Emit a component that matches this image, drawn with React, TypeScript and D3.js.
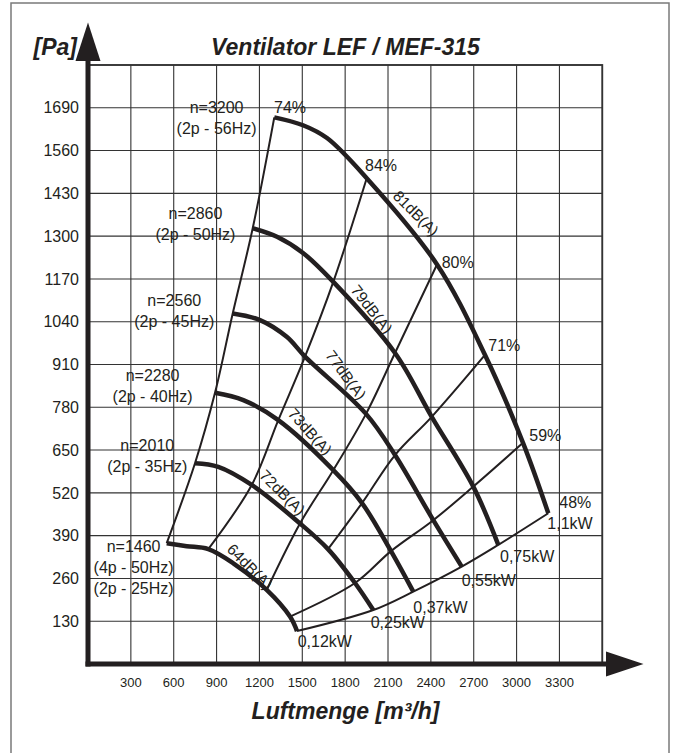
import React from 'react'
import * as d3 from 'd3'

// axis ticks
const yTicks = [130, 260, 390, 520, 650, 780, 910, 1040, 1170, 1300, 1430, 1560, 1690]
const xTicks = [300, 600, 900, 1200, 1500, 1800, 2100, 2400, 2700, 3000, 3300]

// fan curves, [m3/h, Pa]
const n3200 = [[1304, 1661], [1505, 1637], [1673, 1598], [1951, 1476], [2443, 1214], [2779, 939], [3045, 672], [3222, 458]]
const n2860 = [[1153, 1324], [1323, 1298], [1505, 1249], [1717, 1161], [2149, 945], [2406, 751], [2697, 539], [2872, 362]]
const n2560 = [[1013, 1065], [1204, 1045], [1391, 994], [1519, 934], [1946, 760], [2149, 635], [2417, 437], [2616, 296]]
const n2280 = [[889, 824], [1087, 802], [1332, 741], [1717, 589], [1918, 489], [2121, 343], [2277, 220]]
const n2010 = [[749, 610], [912, 599], [1146, 544], [1484, 427], [1680, 349], [1869, 246], [1997, 164]]
const n1460 = [[551, 367], [691, 358], [842, 349], [1017, 306], [1251, 225], [1414, 144], [1463, 100]]

// efficiency lines
const eff74 = [[551, 367], [749, 610], [889, 824], [1013, 1065], [1153, 1324], [1304, 1661]]
const eff84 = [[842, 349], [1146, 544], [1332, 741], [1519, 934], [1717, 1161], [1951, 1476]]
const eff80 = [[1251, 225], [1484, 427], [1717, 589], [1946, 760], [2149, 945], [2443, 1214]]
const eff71 = [[1680, 349], [1918, 489], [2149, 635], [2406, 751], [2779, 939]]
const eff59 = [[1414, 144], [1869, 246], [2121, 343], [2417, 437], [2697, 539], [3045, 672]]
const eff48 = [[1463, 100], [1997, 164], [2277, 220], [2616, 296], [2872, 362], [3222, 458]]

const speedCurves = [n3200, n2860, n2560, n2280, n2010, n1460]
const effLines = [eff74, eff84, eff80, eff71, eff59, eff48]

// speed labels
const speedNames = ['n=3200', 'n=2860', 'n=2560', 'n=2280', 'n=2010', 'n=1460']
const speedNotes = [['(2p - 56Hz)'], ['(2p - 50Hz)'], ['(2p - 45Hz)'], ['(2p - 40Hz)'], ['(2p - 35Hz)'], ['(4p - 50Hz)', '(2p - 25Hz)']]
const speedLabelAt = [[900, 1673], [752, 1351], [604, 1088], [452, 861], [415, 648], [319, 339]]

// efficiency / power labels
const effNames = ['74%', '84%', '80%', '71%', '59%', '48%']
const effLabelAt = [[1302, 1674], [1939, 1499], [2476, 1202], [2802, 952], [3089, 678], [3299, 473]]
const powerNames = ['1,1kW', '0,75kW', '0,55kW', '0,37kW', '0,25kW', '0,12kW']
const powerLabelAt = [[3215, 409], [2884, 311], [2616, 237], [2277, 156], [1979, 108], [1468, 52]]

// sound levels
const dbNames = ['81dB(A)', '79dB(A)', '77dB(A)', '73dB(A)', '72dB(A)', '64dB(A)']
const dbLabelAt = [[2296, 1370], [1986, 1078], [1806, 878], [1554, 706], [1361, 521], [1134, 296]]
const dbAngle = [45, 52, 54, 48, 45, 45]

const ink = '#231f20'
const font = '"Liberation Sans", Arial, Helvetica, sans-serif'

export default function App() {
  const x = d3.scaleLinear().domain([0, 3600]).range([88, 602.3])
  const y = d3.scaleLinear().domain([0, 1820]).range([664, 65])
  const line = d3
    .line<number[]>()
    .x((d) => x(d[0]))
    .y((d) => y(d[1]))
    .curve(d3.curveCatmullRom.alpha(0.5))

  const x0 = x(0)
  const y0 = y(0)
  const gridQ = d3.range(300, 3601, 300)
  const gridP = d3.range(130, 1821, 130)

  return (
    <svg
      width={675}
      height={753}
      style={{ position: 'absolute', left: 0, top: 0, background: '#fff' }}
      fontFamily={font}
    >
      <rect x={11} y={3} width={658} height={770} fill="#fff" stroke="#7a7a7a" strokeWidth={1.5} />

      {/* grid */}
      <g stroke="#333" strokeWidth={1.1}>
        {gridQ.map((q) => (
          <line key={'v' + q} x1={x(q)} x2={x(q)} y1={y0} y2={y(1820)} />
        ))}
        {gridP.map((p) => (
          <line key={'h' + p} x1={x0} x2={x(3600)} y1={y(p)} y2={y(p)} />
        ))}
      </g>
      <rect x={x0} y={y(1820)} width={x(3600) - x0} height={y0 - y(1820)} fill="none" stroke="#333" strokeWidth={1.8} />

      {/* efficiency lines */}
      <g fill="none" stroke={ink} strokeWidth={2}>
        {effLines.map((d, i) => (
          <path key={i} d={line(d) || ''} />
        ))}
      </g>

      {/* speed curves */}
      <g fill="none" stroke={ink} strokeWidth={4.5} strokeLinejoin="round">
        {speedCurves.map((d, i) => (
          <path key={i} d={line(d) || ''} />
        ))}
      </g>

      {/* axes */}
      <line x1={x0} x2={x0} y1={y0 + 2.5} y2={58} stroke={ink} strokeWidth={5} />
      <line x1={x0 - 2.5} x2={608} y1={y0} y2={y0} stroke={ink} strokeWidth={5} />
      <polygon points={`${x0},22.5 ${x0 - 12.5},61 ${x0 + 12.5},61`} fill={ink} />
      <polygon points={`643.5,${y0} 606,${y0 - 12.5} 606,${y0 + 12.5}`} fill={ink} />

      {/* tick labels */}
      <g fill={ink} fontSize={16} textAnchor="end">
        {yTicks.map((t) => (
          <text key={t} x={79} y={y(t) + 5.7}>
            {t}
          </text>
        ))}
      </g>
      <g fill={ink} fontSize={13} textAnchor="middle">
        {xTicks.map((t) => (
          <text key={t} x={x(t)} y={687}>
            {t}
          </text>
        ))}
      </g>

      {/* titles */}
      <g fill={ink} fontSize={23} fontWeight="bold" fontStyle="italic">
        <text x={77} y={55} textAnchor="end">
          [Pa]
        </text>
        <text x={345.5} y={55} textAnchor="middle">
          Ventilator LEF / MEF-315
        </text>
        <text x={345.5} y={719} textAnchor="middle">
          Luftmenge [m³/h]
        </text>
      </g>

      {/* speed labels */}
      <g fill={ink} fontSize={16} textAnchor="middle">
        {speedNames.map((s, i) => (
          <text key={s} x={x(speedLabelAt[i][0])} y={y(speedLabelAt[i][1])}>
            {s}
            {speedNotes[i].map((n, j) => (
              <tspan key={j} x={x(speedLabelAt[i][0])} dy={21}>
                {n}
              </tspan>
            ))}
          </text>
        ))}
      </g>

      {/* efficiency & power labels */}
      <g fill={ink} fontSize={16}>
        {effNames.map((s, i) => (
          <text key={s} x={x(effLabelAt[i][0])} y={y(effLabelAt[i][1])}>
            {s}
          </text>
        ))}
        {powerNames.map((s, i) => (
          <text key={s} x={x(powerLabelAt[i][0])} y={y(powerLabelAt[i][1])}>
            {s}
          </text>
        ))}
      </g>

      {/* sound levels */}
      <g fill={ink} fontSize={15.5} textAnchor="middle">
        {dbNames.map((s, i) => (
          <text
            key={s}
            transform={`translate(${x(dbLabelAt[i][0])},${y(dbLabelAt[i][1])}) rotate(${dbAngle[i]})`}
            dominantBaseline="central"
          >
            {s}
          </text>
        ))}
      </g>
    </svg>
  )
}
